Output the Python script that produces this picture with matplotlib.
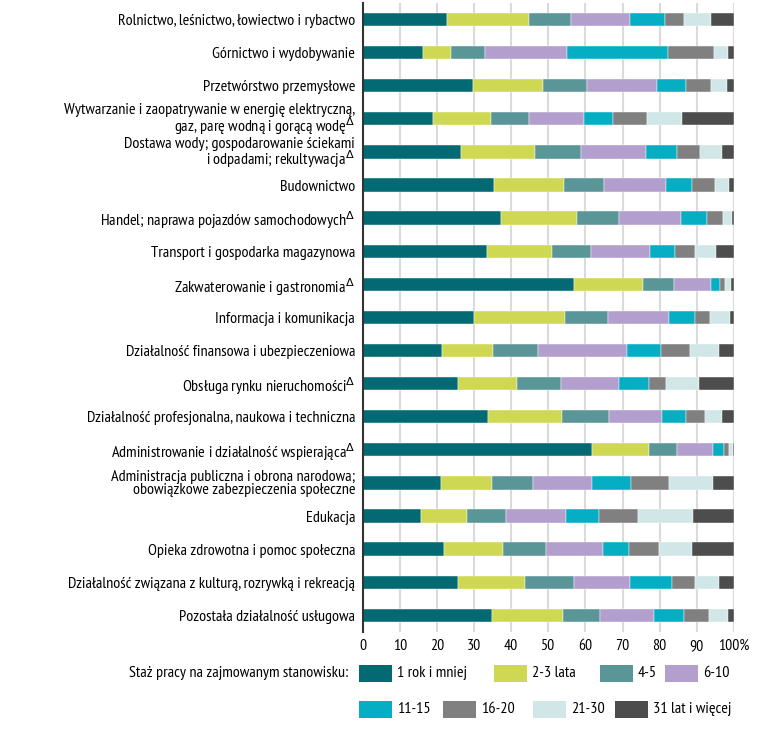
import matplotlib
matplotlib.use('Agg')
import matplotlib.pyplot as plt
import matplotlib.transforms as mtrans
import numpy as np
from matplotlib.patches import Rectangle

plt.rcParams['font.family'] = ['PT Sans Narrow', 'DejaVu Sans']

# kategorie (sekcje PKD)
branze = [
    'Rolnictwo, leśnictwo, łowiectwo i rybactwo',
    'Górnictwo i wydobywanie',
    'Przetwórstwo przemysłowe',
    'Wytwarzanie i zaopatrywanie w energię elektryczną,\ngaz, parę wodną i gorącą wodę$^{\\Delta}$',
    'Dostawa wody; gospodarowanie ściekami\ni odpadami; rekultywacja$^{\\Delta}$',
    'Budownictwo',
    'Handel; naprawa pojazdów samochodowych$^{\\Delta}$',
    'Transport i gospodarka magazynowa',
    'Zakwaterowanie i gastronomia$^{\\Delta}$',
    'Informacja i komunikacja',
    'Działalność finansowa i ubezpieczeniowa',
    'Obsługa rynku nieruchomości$^{\\Delta}$',
    'Działalność profesjonalna, naukowa i techniczna',
    'Administrowanie i działalność wspierająca$^{\\Delta}$',
    'Administracja publiczna i obrona narodowa;\nobowiązkowe zabezpieczenia społeczne',
    'Edukacja',
    'Opieka zdrowotna i pomoc społeczna',
    'Działalność związana z kulturą, rozrywką i rekreacją',
    'Pozostała działalność usługowa',
]

staz = ['1 rok i mniej', '2-3 lata', '4-5', '6-10', '11-15', '16-20', '21-30', '31 lat i więcej']

# udział (%) wg stażu pracy, kolejno dla każdej branży
s_1 = [22.8, 16.2, 29.6, 19.0, 26.6, 35.3, 37.2, 33.5, 56.9, 29.9, 21.4, 25.6, 33.7, 61.9, 21.0, 15.6, 21.9, 25.6, 34.7]
s_2_3 = [22.1, 7.7, 19.1, 15.5, 19.7, 19.0, 20.6, 17.4, 18.7, 24.5, 13.6, 16.0, 20.0, 15.1, 13.9, 12.5, 15.9, 18.2, 19.3]
s_4_5 = [11.2, 9.0, 11.8, 10.3, 12.5, 10.7, 11.2, 10.6, 8.2, 11.7, 12.2, 11.9, 12.6, 7.6, 10.9, 10.5, 11.5, 13.2, 9.9]
s_6_10 = [16.0, 22.0, 18.9, 14.7, 17.4, 16.6, 16.7, 16.0, 10.0, 16.5, 24.0, 15.5, 14.3, 9.7, 16.0, 16.1, 15.3, 14.9, 14.5]
s_11_15 = [9.4, 27.3, 7.8, 8.0, 8.5, 7.2, 7.1, 6.5, 2.4, 7.0, 9.2, 8.0, 6.4, 2.9, 10.4, 9.0, 7.2, 11.5, 8.2]
s_16_20 = [5.0, 12.5, 6.6, 9.0, 6.1, 6.1, 4.2, 5.4, 1.4, 3.9, 7.7, 4.7, 5.2, 1.4, 10.3, 10.4, 8.0, 6.1, 6.6]
s_21_30 = [7.4, 3.7, 4.4, 9.6, 5.9, 3.8, 2.5, 5.9, 1.6, 5.4, 7.9, 8.8, 4.7, 1.1, 11.9, 14.8, 9.0, 6.6, 5.2]
s_31 = [6.1, 1.6, 1.8, 13.9, 3.3, 1.3, 0.5, 4.7, 0.8, 1.1, 4.0, 9.5, 3.1, 0.3, 5.6, 11.1, 11.2, 3.9, 1.6]

kolory = ['#036a74', '#cfd852', '#5a9698', '#b39fcd', '#06aec4', '#808080', '#d0e6e7', '#4d4d4d']

serie = [s_1, s_2_3, s_4_5, s_6_10, s_11_15, s_16_20, s_21_30, s_31]

W, H = 775, 739
fig = plt.figure(figsize=(W / 100, H / 100), dpi=100)
ax = fig.add_axes([0.468, 0.145, 0.479, 0.851])

y = np.arange(len(branze))
lewo = np.zeros(len(branze))
for wart, kol, nazwa in zip(serie, kolory, staz):
    ax.barh(y, wart, left=lewo, height=0.4, color=kol, label=nazwa,
            edgecolor='white', linewidth=0.3, zorder=2)
    lewo += np.array(wart)

ax.set_ylim(len(branze) - 0.5, -0.5)
ax.set_xlim(0, 100)
ax.set_yticks(y)
etykiety = ax.set_yticklabels(branze, fontsize=11.6, ha='right', linespacing=0.88)
# etykieta "Dostawa wody..." jest w oryginale nieco niżej
etykiety[4].set_transform(etykiety[4].get_transform()
                          + mtrans.ScaledTranslation(0, -0.04, fig.dpi_scale_trans))
ax.set_xticks(np.arange(0, 101, 10))
ax.set_xticklabels([str(v) for v in range(0, 100, 10)] + ['100%'], fontsize=11.3)
ax.tick_params(length=0, axis='both')
ax.tick_params(axis='y', pad=5.5)
ax.tick_params(axis='x', pad=5)

ax.grid(axis='x', color='#dadada', linewidth=1.5, zorder=0)
ax.set_axisbelow(True)
for s in ['top', 'right', 'bottom']:
    ax.spines[s].set_visible(False)
ax.spines['left'].set_color('#333333')
ax.spines['left'].set_linewidth(1.5)
ax.spines['left'].set_zorder(3)

# legenda w dwóch wierszach (rozmieszczenie jak w oryginale)
fig.text(348 / W, 1 - 673 / H, 'Staż pracy na zajmowanym stanowisku:',
         ha='right', va='center', fontsize=11.6)
leg_x = [359, 494, 600, 665, 359, 443, 533, 615]
leg_y = [673] * 4 + [709] * 4
for kol, nazwa, lx, ly in zip(kolory, staz, leg_x, leg_y):
    fig.add_artist(Rectangle((lx / W, 1 - (ly + 8.5) / H), 33 / W, 17 / H,
                             transform=fig.transFigure, facecolor=kol, edgecolor='none'))
    fig.text((lx + 38) / W, 1 - ly / H, nazwa, ha='left', va='center', fontsize=11.6)

plt.savefig('out.png', dpi=100)
